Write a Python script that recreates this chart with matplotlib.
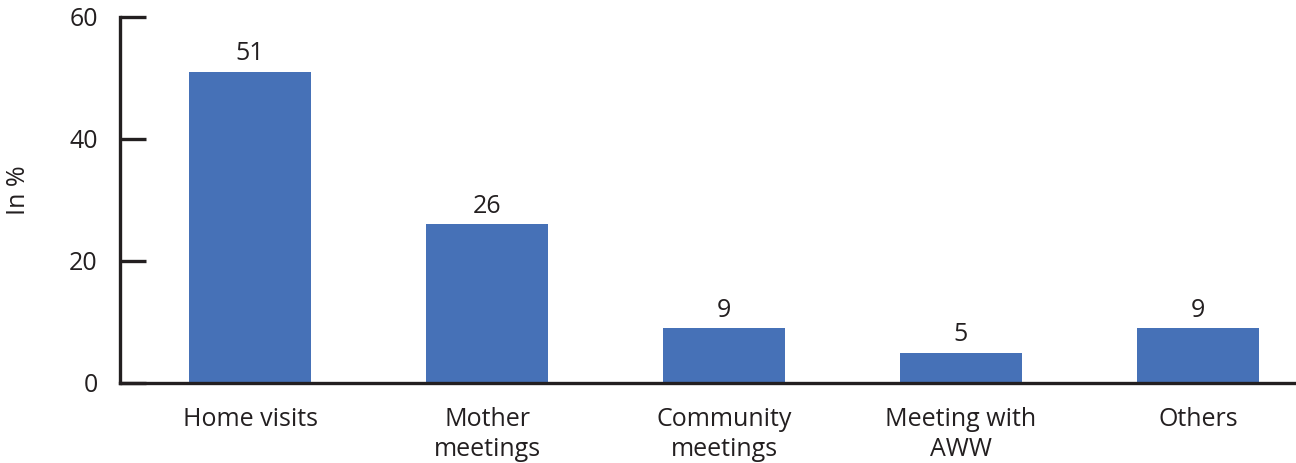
import matplotlib
matplotlib.use("Agg")
import matplotlib.pyplot as plt
import numpy as np

categories = ["Home visits", "Mother\nmeetings", "Community\nmeetings", "Meeting with\nAWW", "Others"]
values = [51, 26, 9, 5, 9]
y_ticks = [0, 20, 40, 60]

bar_color = "#4671b7"
ink = "#231f20"
fs = 18

plt.rcParams["font.family"] = ["Open Sans", "DejaVu Sans"]

fig = plt.figure(figsize=(12.96, 4.63), dpi=100)
ax = fig.add_axes([120 / 1296, 80 / 463, 1175 / 1296, 366 / 463])

x = np.arange(len(categories))
bars = ax.bar(x, values, width=0.515, color=bar_color, zorder=2)

for rect, v in zip(bars, values):
    ax.annotate(f"{v}", (rect.get_x() + rect.get_width() / 2, v),
                xytext=(0, 4), textcoords="offset points",
                ha="center", va="bottom", fontsize=fs, color=ink)

ax.set_xlim(-0.549, 4.41)
ax.set_ylim(0, 60)
ax.set_yticks(y_ticks)
ax.set_xticks(x)
ax.set_xticklabels(categories, fontsize=fs, color=ink, linespacing=1.3)

for side in ("top", "right"):
    ax.spines[side].set_visible(False)
for side in ("left", "bottom"):
    ax.spines[side].set_linewidth(2.4)
    ax.spines[side].set_color(ink)
    ax.spines[side].set_capstyle("projecting")

ax.tick_params(axis="y", direction="in", length=19, width=2.4, color=ink,
               labelsize=fs, labelcolor=ink, pad=16)
ax.tick_params(axis="x", length=0, pad=17)

ax.set_ylabel("In %", fontsize=fs, color=ink)
ax.yaxis.set_label_coords(-0.076, 0.527)

fig.savefig("out.png", dpi=100, facecolor="white")
